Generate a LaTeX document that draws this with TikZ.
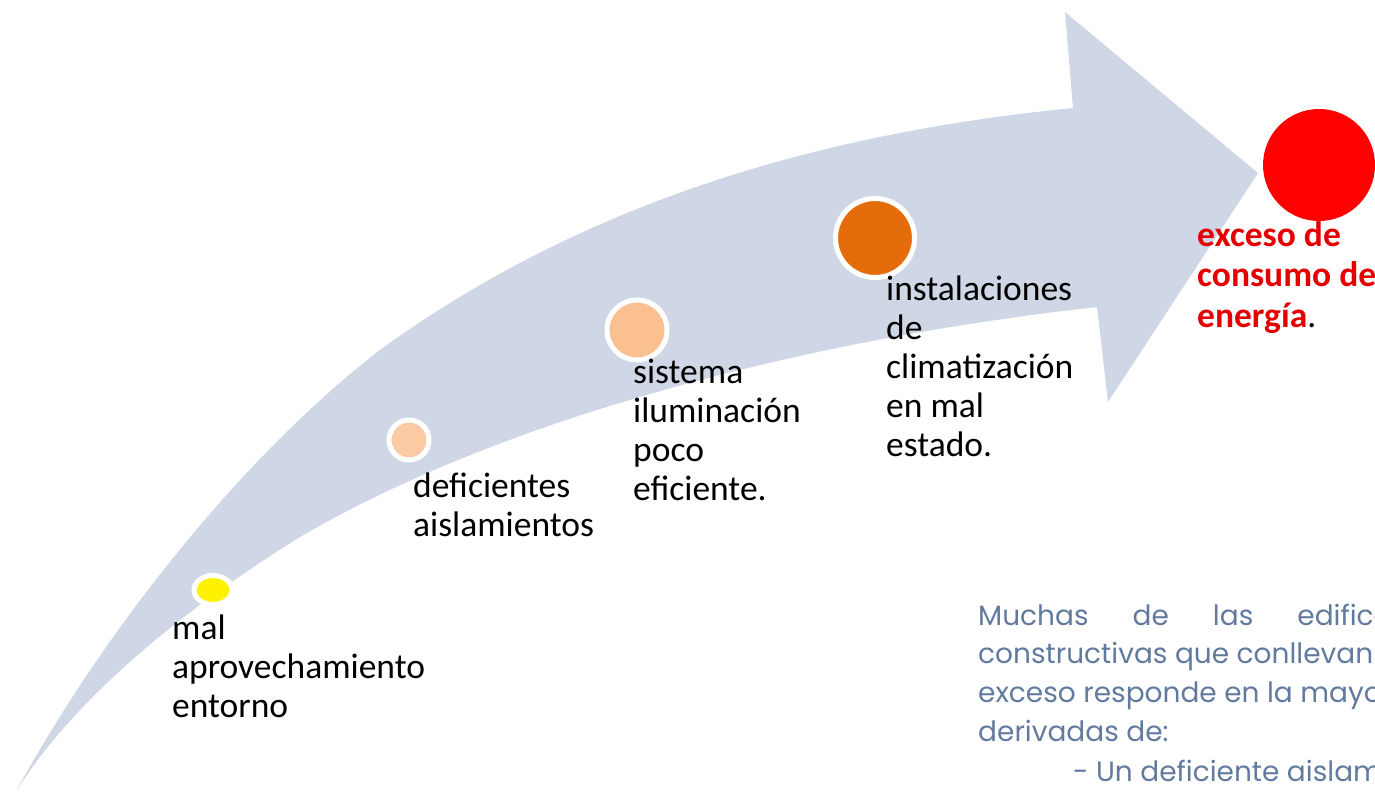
\documentclass[tikz,border=0pt]{standalone}
\usepackage{fontspec}
\setmainfont{Carlito}
\newfontfamily\notafont{Poppins}
\usetikzlibrary{positioning,shapes.geometric}

\definecolor{flecha}{RGB}{207,214,229}
\definecolor{naranja}{RGB}{228,108,10}
\definecolor{melocoton}{RGB}{250,192,144}
\definecolor{melocotonclaro}{RGB}{250,202,164}
\definecolor{amarillo}{RGB}{255,242,0}
\definecolor{rojo}{RGB}{255,0,0}
\definecolor{rojotexto}{RGB}{228,0,0}
\definecolor{pizarra}{RGB}{98,122,158}

\tikzset{
  causa/.style={font=\fontsize{35.5}{39}\selectfont, align=left, anchor=base west, inner sep=0pt},
  punto/.style={circle, draw=white, line width=5pt, inner sep=0pt},
  nota/.style={font=\notafont\fontsize{28}{38.5}\selectfont, text=pizarra, anchor=base west, inner sep=0pt}
}

\begin{document}
\begin{tikzpicture}[x=1pt,y=-1pt]
  \useasboundingbox (0,0) rectangle (1375,795);
  \clip (0,0) rectangle (1375,795);

  % flecha curva
  \fill[flecha] (15,793) .. controls (110,620) and (250,450) .. (380,350)
    .. controls (600,190) and (850,130) .. (1073,108) -- (1065,12) -- (1258,173)
    -- (1108,402) -- (1097,307) .. controls (800,340) and (500,420) .. (300,537)
    .. controls (150,630) and (60,720) .. cycle;

  % puntos
  \node[ellipse, draw=white, line width=5pt, fill=amarillo, minimum width=38pt, minimum height=29pt, inner sep=0pt] (p entorno) at (213,590) {};
  \node[punto, fill=melocotonclaro, minimum size=40pt] (p aislamiento) at (409,440) {};
  \node[punto, fill=melocoton, minimum size=60pt]      (p iluminacion)  at (637,330) {};
  \node[punto, fill=naranja, minimum size=79pt]        (p climatizacion) at (875,238) {};
  \node[circle, fill=rojo, minimum size=112pt, inner sep=0pt] (p consumo) at (1319,165) {};

  % textos (anclados en la linea base de la ultima linea)
  \node[causa] (entorno)       at (172,717) {mal\\aprovechamiento\\entorno};
  \node[causa] (aislamiento)   at (413,536) {deficientes\\aislamientos};
  \node[causa] (iluminacion)   at (633,500) {sistema\\iluminación\\poco\\eficiente.};
  \node[causa] (climatizacion) at (886,456) {instalaciones\\de\\climatización\\en mal\\estado.};
  \node[causa, font=\fontsize{35.5}{40.5}\selectfont\bfseries, text=rojotexto] (consumo) at (1197,327)
    {exceso de\\consumo de\\energía\textcolor{black}{\mdseries.}};

  % parrafo
  \node[nota] (linea1) at (978,625) {Muchas\hspace{44pt}de\hspace{44pt}las\hspace{44pt}edificaciones};
  \node[nota] (linea2) at (978,663) {constructivas que conllevan};
  \node[nota] (linea3) at (978,702) {exceso responde en la mayoría};
  \node[nota] (linea4) at (978,741) {derivadas de:};
  \node[nota] (linea5) at (1073,781) {- Un deficiente aislamiento};
\end{tikzpicture}
\end{document}
